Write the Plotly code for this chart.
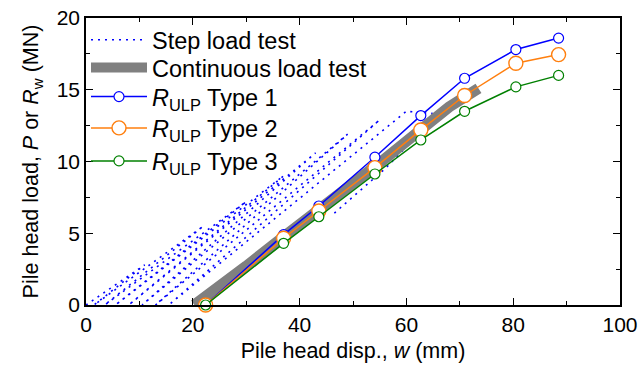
import plotly.graph_objects as go

# ---- data ----
# Step load test: sequence of load/unload cycles (residual -> peak -> residual)
step_residuals = [0.0, 1.5, 3.5, 5.5, 8.0, 10.5, 13.0, 15.5, 17.5]
step_peak_w = [11.0, 22.0, 30.0, 37.0, 43.0, 49.0, 55.0, 60.0]
step_peak_p = [2.8, 5.5, 7.2, 9.0, 10.6, 11.9, 12.9, 13.5]
# final hold and unloading branch
final_w = [64.8, 64.4, 56.0, 46.5]
final_p = [13.35, 12.7, 9.5, 6.4]

cont_w = [20.3, 22.0, 26.0, 30.0, 37.0, 44.0, 50.0, 55.0, 62.0, 68.0, 73.5]
cont_p = [0.0, 0.45, 1.55, 2.7, 4.75, 6.7, 8.4, 9.9, 12.0, 13.8, 15.1]

ulp_w = [22.4, 37.0, 43.6, 54.1, 62.7, 70.9, 80.5, 88.5]
ulp_type1 = [0.0, 4.9, 6.9, 10.3, 13.2, 15.8, 17.8, 18.6]
ulp_type2 = [0.0, 4.65, 6.55, 9.57, 12.2, 14.6, 16.85, 17.45]
ulp_type3 = [0.0, 4.3, 6.15, 9.13, 11.5, 13.5, 15.2, 16.0]

x_ticks = [0, 20, 40, 60, 80, 100]
y_ticks = [0, 5, 10, 15, 20]

# build step load polyline
sw, sp = [step_residuals[0]], [0.0]
for i in range(len(step_peak_w)):
    sw.append(step_peak_w[i]); sp.append(step_peak_p[i])
    if i < len(step_peak_w) - 1:
        sw.append(step_residuals[i + 1]); sp.append(0.0)
sw += final_w
sp += final_p

FONT = "Liberation Sans, Arial, sans-serif"

fig = go.Figure()
fig.add_trace(go.Scatter(
    x=sw, y=sp, mode="lines", name="Step load test",
    line=dict(color="#0000ff", width=1.6, dash="2px,5px"),
    legend="legend", showlegend=True))
fig.add_trace(go.Scatter(
    x=cont_w, y=cont_p, mode="lines", name="Continuous load test",
    line=dict(color="#808080", width=11), legend="legend2", showlegend=True))
fig.add_trace(go.Scatter(
    x=ulp_w, y=ulp_type1, mode="lines+markers",
    name="<i>R</i><sub>ULP</sub> Type 1",
    line=dict(color="#0000ff", width=1.5),
    marker=dict(symbol="circle", size=10, color="white",
                line=dict(color="#0000ff", width=1.2)),
    cliponaxis=False, legend="legend3", showlegend=True))
fig.add_trace(go.Scatter(
    x=ulp_w, y=ulp_type2, mode="lines+markers",
    name="<i>R</i><sub>ULP</sub> Type 2",
    line=dict(color="#ff7f0e", width=1.5),
    marker=dict(symbol="circle", size=14, color="white",
                line=dict(color="#ff7f0e", width=1.4)),
    cliponaxis=False, legend="legend4", showlegend=True))
fig.add_trace(go.Scatter(
    x=ulp_w, y=ulp_type3, mode="lines+markers",
    name="<i>R</i><sub>ULP</sub> Type 3",
    line=dict(color="#008000", width=1.5),
    marker=dict(symbol="circle", size=10, color="white",
                line=dict(color="#008000", width=1.2)),
    cliponaxis=False, legend="legend5", showlegend=True))

axis_common = dict(
    showline=True, linecolor="black", linewidth=1.5, mirror="allticks",
    ticks="inside", ticklen=7, tickwidth=1.2, tickcolor="black",
    showgrid=False, zeroline=False, automargin=False,
    tickfont=dict(family=FONT, size=21, color="black"),
)
fig.update_xaxes(
    range=[0, 100], tickvals=x_ticks, ticktext=[str(v) for v in x_ticks],
    minor=dict(dtick=10, ticks="inside", ticklen=4, tickwidth=1, tickcolor="black"),
    title=dict(text="Pile head disp., <i>w</i> (mm)", font=dict(family=FONT, size=21.5, color="black"), standoff=8),
    **axis_common)
fig.update_yaxes(
    range=[0, 20], tickvals=y_ticks, ticktext=[str(v) for v in y_ticks],
    minor=dict(dtick=2.5, ticks="inside", ticklen=4, tickwidth=1, tickcolor="black"),
    title=dict(text="Pile head load, <i>P</i> or <i>R</i><sub>w</sub> (MN)", font=dict(family=FONT, size=21.5, color="black"), standoff=12),
    **axis_common)

def leg(ypos):
    return dict(x=0.0, y=ypos, xanchor="left", yanchor="top",
                bgcolor="rgba(0,0,0,0)",
                font=dict(family=FONT, size=23.5, color="black"),
                itemwidth=56, visible=True)

fig.update_layout(
    width=638, height=367,
    margin=dict(l=86, r=18, t=18, b=62),
    paper_bgcolor="white", plot_bgcolor="white",
    font=dict(family=FONT, size=21, color="black"),
    showlegend=True,
    legend=leg(1.0),
    legend2=leg(0.903),
    legend3=leg(0.802),
    legend4=leg(0.693),
    legend5=leg(0.578),
)

fig.write_html("out.html")
